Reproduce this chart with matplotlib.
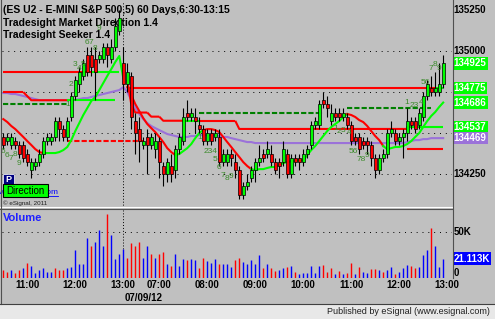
import matplotlib
matplotlib.use("Agg")
import matplotlib.pyplot as plt
import numpy as np
from matplotlib import transforms
from matplotlib.patches import Rectangle

plt.rcParams['font.family'] = ['Liberation Sans', 'DejaVu Sans']

# 5 minute bars: index 0 = 10:30 (first session), index 33 = 06:30 on 07/09/12
opens = [134475, 134450, 134425, 134450, 134425, 134425, 134375, 134275, 134300, 134325,
         134375, 134450, 134450, 134475, 134575, 134525, 134475, 134600, 134725, 134800,
         134850, 134975, 134975, 134950, 134950, 134950, 135025, 134950, 135025, 135125,
         134925, 134800, 134850, 134575, 134525, 134425, 134475, 134425, 134400, 134450,
         134300, 134250, 134300, 134275, 134400, 134450, 134625, 134600, 134600, 134550,
         134525, 134450, 134500, 134475, 134475, 134325, 134325, 134375, 134325, 134275,
         134125, 134175, 134225, 134275, 134325, 134375, 134375, 134375, 134325, 134325,
         134325, 134375, 134250, 134350, 134350, 134325, 134375, 134425, 134550, 134550,
         134700, 134675, 134575, 134625, 134625, 134600, 134600, 134550, 134475, 134475,
         134450, 134450, 134425, 134350, 134275, 134350, 134375, 134500, 134500, 134450,
         134475, 134500, 134575, 134575, 134550, 134600, 134725, 134775, 134750, 134750,
         134800]
highs = [134500, 134500, 134500, 134475, 134450, 134450, 134400, 134350, 134350, 134400,
         134475, 134500, 134500, 134600, 134600, 134550, 134600, 134750, 134850, 134900,
         134950, 135025, 135025, 135025, 135000, 135050, 135050, 135075, 135200, 135250,
         135025, 134925, 134875, 134625, 134600, 134475, 134525, 134500, 134500, 134475,
         134325, 134350, 134375, 134425, 134500, 134650, 134700, 134650, 134650, 134600,
         134550, 134525, 134525, 134525, 134525, 134400, 134400, 134400, 134375, 134300,
         134200, 134250, 134300, 134350, 134425, 134400, 134450, 134425, 134350, 134350,
         134450, 134400, 134375, 134375, 134375, 134400, 134425, 134575, 134600, 134700,
         134750, 134725, 134675, 134650, 134650, 134650, 134625, 134575, 134500, 134500,
         134475, 134475, 134450, 134375, 134375, 134400, 134525, 134575, 134525, 134500,
         134525, 134650, 134600, 134600, 134650, 134750, 134825, 134850, 134875, 134925,
         134975]
lows = [134400, 134425, 134400, 134400, 134350, 134325, 134300, 134225, 134275, 134300,
        134350, 134425, 134425, 134450, 134450, 134450, 134450, 134575, 134700, 134750,
        134825, 134850, 134850, 134700, 134925, 134925, 134900, 134925, 135000, 135100,
        134700, 134750, 134525, 134375, 134325, 134400, 134250, 134400, 134350, 134225,
        134175, 134200, 134200, 134225, 134375, 134425, 134575, 134575, 134500, 134500,
        134425, 134425, 134425, 134450, 134300, 134300, 134300, 134300, 134225, 134100,
        134100, 134150, 134200, 134200, 134300, 134325, 134350, 134300, 134250, 134225,
        134300, 134225, 134225, 134300, 134275, 134300, 134350, 134400, 134525, 134525,
        134650, 134600, 134550, 134575, 134575, 134575, 134525, 134425, 134425, 134375,
        134400, 134375, 134300, 134225, 134250, 134325, 134350, 134475, 134425, 134425,
        134350, 134450, 134525, 134500, 134525, 134575, 134700, 134725, 134725, 134725,
        134775]
closes = [134425, 134475, 134475, 134425, 134375, 134350, 134325, 134325, 134325, 134375,
          134450, 134475, 134475, 134575, 134525, 134475, 134575, 134725, 134825, 134875,
          134925, 134875, 134900, 134875, 134975, 135025, 134975, 135025, 135150, 135200,
          134800, 134875, 134600, 134500, 134450, 134450, 134425, 134475, 134450, 134325,
          134250, 134325, 134250, 134400, 134475, 134600, 134600, 134625, 134575, 134525,
          134450, 134500, 134450, 134500, 134325, 134375, 134375, 134350, 134275, 134125,
          134175, 134200, 134275, 134325, 134350, 134350, 134400, 134325, 134275, 134300,
          134400, 134250, 134350, 134325, 134325, 134375, 134400, 134550, 134575, 134675,
          134675, 134650, 134625, 134600, 134600, 134625, 134550, 134450, 134450, 134400,
          134425, 134425, 134350, 134275, 134350, 134375, 134500, 134525, 134450, 134475,
          134500, 134575, 134550, 134525, 134625, 134725, 134800, 134750, 134775, 134800,
          134925]

# volume in thousands, U = up bar (blue), D = down bar (red)
volume_k = [8.3, 6.9, 9.1, 5.4, 8.3, 10.5, 16.3, 12.7, 5.8, 8.3,
            10.5, 6.2, 6.9, 10.5, 9.0, 8.3, 11.2, 12.0, 30.0, 15.6,
            15.6, 43.8, 35.1, 39.5, 51.8, 35.0, 70.0, 47.0, 21.0, 25.7,
            31.0, 21.4, 38.4, 34.4, 39.0, 21.4, 34.4, 25.7, 22.0, 25.7,
            27.9, 15.6, 12.7, 25.7, 13.4, 20.6, 19.2, 20.6, 19.9, 10.5,
            21.4, 18.5, 16.3, 20.6, 15.6, 14.9, 14.9, 12.3, 19.6, 22.1,
            17.4, 15.2, 19.6, 15.2, 25.0, 11.2, 15.2, 10.9, 7.6, 9.1,
            10.9, 12.0, 12.7, 6.9, 4.3, 5.4, 5.4, 12.7, 5.4, 13.0,
            14.5, 6.5, 10.9, 4.3, 8.0, 4.7, 5.4, 16.7, 4.7, 12.0,
            6.5, 5.8, 9.8, 9.8, 8.7, 6.9, 8.7, 12.0, 4.7, 6.9,
            10.9, 14.1, 12.7, 11.2, 12.3, 25.0, 30.8, 54.3, 35.1, 12.0, 21.113]
volume_dir = ("DDUDDUDUUU" "UUUDDDUUUU" "UUDUUUDUUU" "UDDDDUUDUD" "DUDUUUDUUD"
              "DUUUDUUUDD" "UUUUUDUDDU" "UDUDUUUUUU" "DDDUDUDDUD" "UUDDUDUUDU" "UUDDUUUDUUU")

# Tradesight Seeker trailing line and its trend segments
seeker = [134585, 134567, 134543, 134524, 134500, 134476, 134451, 134427, 134402, 134384,
          134378, 134378, 134378, 134378, 134384, 134396, 134415, 134457, 134512, 134561,
          134610, 134652, 134695, 134719, 134762, 134805, 134848, 134890, 134933, 134970,
          134835, 134780, 134732, 134677, 134634, 134591, 134555, 134530, 134506, 134476,
          134445, 134408, 134384, 134366, 134372, 134390, 134408, 134433, 134469, 134500,
          134518, 134524, 134524, 134518, 134506, 134476, 134445, 134415, 134384, 134354,
          134323, 134299, 134280, 134274, 134280, 134280, 134287, 134293, 134293, 134305,
          134317, 134323, 134329, 134329, 134335, 134335, 134366, 134396, 134421, 134451,
          134482, 134512, 134537, 134555, 134573, 134598, 134616, 134610, 134598, 134579,
          134567, 134543, 134512, 134482, 134457, 134421, 134402, 134408, 134415, 134415,
          134421, 134433, 134451, 134476, 134500, 134537, 134573, 134604, 134628, 134659,
          134686]
seeker_trend = [(0, 10, 'dn'), (10, 30, 'up'), (31, 43, 'dn'), (43, 50, 'up'),
                (50, 62, 'dn'), (62, 86, 'up'), (86, 95, 'dn'), (95, 110, 'up')]

# moving average (purple)
average = ([134744, 134744, 134738, 134738, 134732, 134726, 134720, 134713, 134707, 134701]
           + [134701] * 9
           + [134707, 134713, 134713, 134720, 134726, 134732, 134738, 134744, 134750, 134756,
              134762, 134780]
           + [134750, 134701, 134652, 134616, 134585, 134561, 134543, 134530, 134518, 134506,
              134494, 134488, 134482, 134476, 134476, 134476, 134482, 134482, 134488, 134488,
              134488, 134488, 134488, 134482, 134476, 134476, 134469, 134463, 134457, 134451,
              134445, 134445]
           + [134439] * 38
           + [134445, 134451, 134457, 134457, 134463, 134463, 134469, 134469, 134469, 134469])

# Market Direction levels: (first bar, last bar, price, resistance/support)
day1_upper = [(0, 22, 134875, 'res'), (22, 29, 134875, 'sup')]
day1_mid = [(0, 5, 134750, 'res'), (7, 16, 134700, 'res'), (16, 28, 134700, 'sup')]
day2_upper = [(31, 108, 134775, 'res'), (108, 110, 134775, 'sup')]
day2_lower = [(31, 31, 134825, 'res'), (32, 32, 134675, 'res'), (33, 36, 134625, 'res'),
              (37, 39, 134600, 'res'), (40, 45, 134575, 'res'), (45, 49, 134575, 'sup'),
              (49, 58, 134575, 'res'), (59, 101, 134525, 'res'), (101, 110, 134537, 'sup')]
day2_stop = [(101, 110, 134400, 'res')]
pivot_green = [(0, 16, 134675), (49, 80, 134625), (86, 107, 134650)]
pivot_red = [(16, 35, 134450)]

# seeker count labels: (bar, price, text)
counts = [(0, 134390, '6'), (1, 134366, '6'), (2, 134347, '7'), (3, 134372, '8'), (4, 134317, '9'),
          (16, 134677, '1'), (17, 134793, '2'), (18, 134915, '3'), (19, 134896, '4'), (20, 134915, '5'),
          (21, 135055, '6'), (22, 135055, '7'), (23, 135018, '8'), (24, 135140, '9'),
          (49, 134475, '1'), (51.7, 134390, '234'), (53, 134341, '5'), (54, 134287, '6'),
          (55, 134244, '7'), (56, 134220, '8'), (57, 134238, '9'),
          (83, 134530, '1'), (84, 134512, '2'), (85, 134518, '3'), (86.5, 134506, '4'),
          (87.5, 134390, '56'), (89.5, 134341, '78'), (91, 134366, '9'),
          (100.8, 134689, '1'), (102.8, 134665, '23'), (104.5, 134689, '4'),
          (105.5, 134811, '56'), (107, 134896, '7'), (108, 134915, '8'), (109, 134896, '9')]

price_ticks = [135250, 135000, 134250]
grid_prices = [135000, 134750, 134500, 134250]
dot_prices = [135250, 135125, 134875, 134625, 134375, 134125]
dot_bars = [3, 15, 27, 36, 48, 60, 72, 84, 96, 108]
value_tags = [(134925, '#00ff00'), (134775, '#00ff00'), (134686, '#00ff00'),
              (134537, '#00ff00'), (134469, '#9b72d9')]
time_bars = [6, 18, 30, 39, 51, 63, 75, 87, 99, 111]
time_labels = ['11:00', '12:00', '13:00', '07:00', '08:00', '09:00', '10:00', '11:00', '12:00', '13:00']

BG = '#c0c0c0'
RED = '#ff0000'
GREEN = '#00ff00'
PURPLE = '#9b72d9'
COUNT = '#3a8a2a'

fig = plt.figure(figsize=(4.95, 3.19), dpi=100, facecolor=BG)
ov = fig.add_axes([0, 0, 1, 1], zorder=5)
ov.set_xlim(0, 495)
ov.set_ylim(319, 0)
ov.axis('off')
ov.patch.set_alpha(0)
px = ov.transData

ax = fig.add_axes([2 / 495, 1 - 208 / 319, 450 / 495, 206 / 319], facecolor=BG)
axv = fig.add_axes([2 / 495, 1 - 278 / 319, 450 / 495, 68 / 319], facecolor=BG)
for a in (ax, axv):
    a.set_xlim(-0.325, 112.2)
    a.set_xticks([])
    a.set_yticks([])
    for s in a.spines.values():
        s.set_visible(False)
ax.set_ylim(134043, 135299)
axv.set_ylim(0, 73.9)

x = np.arange(len(closes))
o = np.array(opens)
c = np.array(closes)
h = np.array(highs)
l = np.array(lows)

# grid
for p in grid_prices:
    ax.axhline(p, color='black', lw=0.7, ls=(0, (1, 5)), zorder=1)
gx, gy = np.meshgrid(dot_bars, dot_prices)
ax.scatter(gx.ravel(), gy.ravel(), s=0.5, marker='s', color='black', lw=0, zorder=1)
axv.axhline(50, color='black', lw=0.7, ls=(0, (1, 5)), zorder=1)
axv.scatter(dot_bars, [25] * len(dot_bars), s=0.5, marker='s', color='black', lw=0, zorder=1)
ax.axvline(30, color='black', lw=0.7, ls=(0, (1, 2)), zorder=1)
axv.axvline(30, color='black', lw=0.7, ls=(0, (1, 2)), zorder=1)

# titles (under the bars)
ax.text(3, 10, '(ES U2 - E-MINI S&P 500,5) 60 Days,6:30-13:15', transform=px,
        fontsize=7.5, weight='bold', va='center', zorder=1)
ax.text(3, 23, 'Tradesight Market Direction 1.4', transform=px,
        fontsize=7.5, weight='bold', va='center', zorder=1)
ax.text(3, 35, 'Tradesight Seeker 1.4', transform=px,
        fontsize=7.5, weight='bold', va='center', zorder=1)


def draw_level(segs, dashed=False, color=None):
    prev = None
    for seg in segs:
        first, last, price = seg[:3]
        col = color or (RED if seg[3] == 'res' else GREEN)
        xs, ys = [first, last], [price, price]
        if prev is not None and first - prev[0] <= 2:
            xs = [prev[0]] + xs
            ys = [prev[1]] + ys
        ax.plot(xs, ys, color=col, lw=1.5, ls=(0, (2.5, 1)) if dashed else '-',
                zorder=3, solid_capstyle='butt')
        prev = (last, price)


ax.plot(x, average, color=PURPLE, lw=1.5, zorder=2)
for segs in (day1_upper, day1_mid, day2_upper, day2_lower, day2_stop):
    draw_level(segs)
draw_level(pivot_green, dashed=True, color='#008000')
draw_level(pivot_red, dashed=True, color=RED)
for a, b, t in seeker_trend:
    ax.plot(x[a:b + 1], seeker[a:b + 1], color=GREEN if t == 'up' else RED, lw=1.5, zorder=3)

# candles
ax.vlines(x, l, h, color='black', lw=0.8, zorder=4)
body = np.maximum(np.abs(c - o), 6)
ax.bar(x, body, bottom=np.minimum(o, c), width=0.7,
       color=np.where(c >= o, '#00ff00', '#ff0000'), edgecolor='black', linewidth=0.5, zorder=5)

for b, p, t in counts:
    ax.text(b, p, t, fontsize=6, color=COUNT, ha='center', va='center', zorder=6)

# volume
vcol = ['#0000ff' if d == 'U' else '#ff0000' for d in volume_dir]
axv.vlines(x, 0, volume_k, colors=vcol, lw=1.0, zorder=3)

# right axis labels
yt = ax.get_yaxis_transform()
for p in price_ticks:
    ax.text(1.003, p, str(p), transform=yt, fontsize=7, weight='bold', va='center',
            ha='left', clip_on=False)
for p, col in value_tags:
    ax.text(1.004, p, str(p), transform=yt, fontsize=7, weight='bold', va='center',
            ha='left', color='white', clip_on=False,
            bbox=dict(boxstyle='square,pad=0.12', fc=col, ec='none'))
vt = axv.get_yaxis_transform()
axv.text(1.003, 50, '50K', transform=vt, fontsize=7, weight='bold', va='center', ha='left')
axv.text(1.004, volume_k[-1], '%.3fK' % volume_k[-1], transform=vt, fontsize=7, weight='bold',
         va='center', ha='left', color='white',
         bbox=dict(boxstyle='square,pad=0.12', fc='#0000ff', ec='none'))
axv.text(1.003, 0, '0', transform=vt, fontsize=7, weight='bold', va='bottom', ha='left')

# time axis
tt = transforms.blended_transform_factory(axv.transData, px)
for b, t in zip(time_bars, time_labels):
    axv.text(b, 285, t, transform=tt, fontsize=7, weight='bold', ha='center', va='center',
             clip_on=False)
axv.text(35, 298, '07/09/12', transform=tt, fontsize=7, weight='bold', ha='center',
         va='center', clip_on=False)

# frame and extras
ov.plot([0, 452], [207, 207], color='white', lw=0.8)
ov.plot([0, 452], [209, 209], color='#505050', lw=0.8)
ov.plot([452.5, 452.5], [0, 278], color='#505050', lw=0.8)
ov.plot([1, 1], [0, 304], color='#505050', lw=0.8)
ov.add_patch(Rectangle((0, 304), 495, 15, fc='#e8e8e8', ec='none'))
ov.plot([0, 495], [304, 304], color='#404040', lw=0.8)
ov.text(490, 311.5, 'Published by eSignal (www.esignal.com)', fontsize=6.5, color='#202020',
        ha='right', va='center')
ov.text(3, 218, 'Volume', fontsize=8, weight='bold', color='#2020ff', va='center')

ov.text(58, 192.5, 'www.esignal.com', fontsize=6, color='#0000ff', ha='right', va='center', zorder=1)
ov.plot([40, 58], [196, 196], color='#0000ff', lw=0.6, zorder=1)
ov.add_patch(Rectangle((3, 174), 11, 10, fc='#000080', ec='white', lw=0.5, zorder=2))
ov.text(8.5, 179, 'P', fontsize=6.5, weight='bold', color='white', ha='center', va='center', zorder=3)
ov.add_patch(Rectangle((3, 184), 45, 13, fc='#00ff00', ec='black', lw=0.8, zorder=2))
ov.text(25.5, 190.5, 'Direction', fontsize=7, color='black', ha='center', va='center', zorder=3)
ov.text(3, 203, '\u00a9 eSignal, 2011', fontsize=4.5, color='#202020', va='center')

fig.savefig('out.png', dpi=100, facecolor=BG)
